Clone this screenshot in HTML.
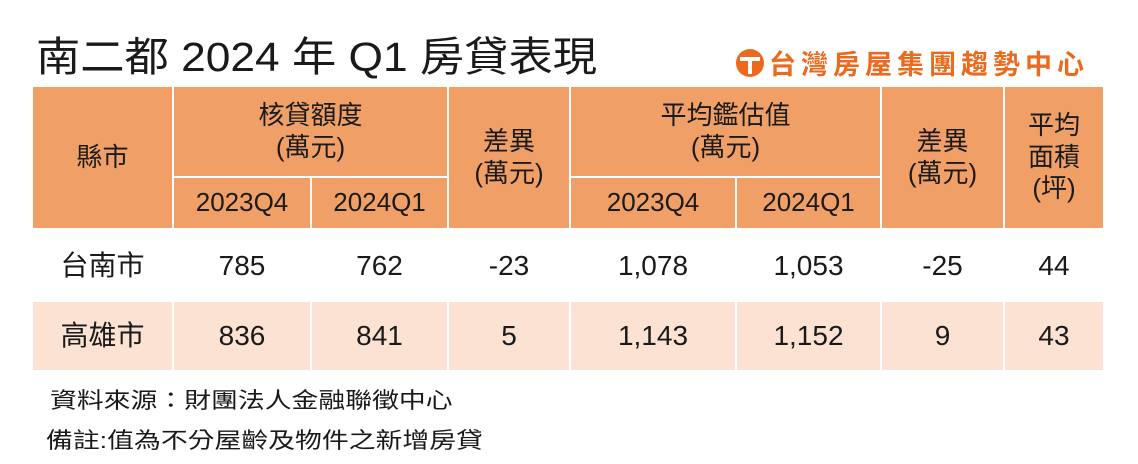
<!DOCTYPE html>
<html><head><meta charset="utf-8"><style>
body{margin:0;width:1138px;height:464px;background:#fff;position:relative;overflow:hidden;font-family:"Liberation Sans","Noto Sans CJK TC",sans-serif;color:#1a1a1a}
.c{position:absolute;display:flex;align-items:center;justify-content:center;text-align:center;box-sizing:border-box;line-height:1.22}
.h{background:#f0a066;font-size:26px}
.p{background:#fbe2d2}
.d{font-size:28px}
.t{position:absolute;left:36px;top:32px;font-size:41px;line-height:50px;white-space:nowrap;transform:scaleX(1.08);transform-origin:0 0}
.logo{position:absolute;left:735px;top:43px;font-size:27px;font-weight:bold;color:#ec6a1e;display:flex;align-items:center;letter-spacing:5px;white-space:nowrap}
.f{position:absolute;font-size:22px;white-space:nowrap;transform:scaleX(1.22);transform-origin:0 0}
</style></head><body>
<div class="t">南二都 2024 年 Q1 房貸表現</div>
<div class="logo"><svg width="30" height="30" viewBox="0 0 30 30"><circle cx="15" cy="15" r="14" fill="#ec6a1e"/><rect x="5" y="9" width="20" height="4" fill="#fff"/><rect x="13" y="9" width="4" height="17" fill="#fff"/></svg><span style="margin-left:4px">台灣房屋集團趨勢中心</span></div>
<!-- header -->
<div class="c h" style="left:33px;top:87px;width:139px;height:141px">縣市</div>
<div class="c h" style="left:174px;top:87px;width:273px;height:89px">核貸額度<br>(萬元)</div>
<div class="c h" style="left:174px;top:178px;width:136px;height:50px">2023Q4</div>
<div class="c h" style="left:312px;top:178px;width:135px;height:50px">2024Q1</div>
<div class="c h" style="left:449px;top:87px;width:120px;height:141px">差異<br>(萬元)</div>
<div class="c h" style="left:571px;top:87px;width:309px;height:89px">平均鑑估值<br>(萬元)</div>
<div class="c h" style="left:571px;top:178px;width:164px;height:50px">2023Q4</div>
<div class="c h" style="left:737px;top:178px;width:143px;height:50px">2024Q1</div>
<div class="c h" style="left:882px;top:87px;width:121px;height:141px">差異<br>(萬元)</div>
<div class="c h" style="left:1005px;top:87px;width:98px;height:141px">平均<br>面積<br>(坪)</div>
<!-- row1 -->
<div class="c d" style="left:33px;top:230px;width:139px;height:72px">台南市</div>
<div class="c d" style="left:174px;top:230px;width:136px;height:72px">785</div>
<div class="c d" style="left:312px;top:230px;width:135px;height:72px">762</div>
<div class="c d" style="left:449px;top:230px;width:120px;height:72px">-23</div>
<div class="c d" style="left:571px;top:230px;width:164px;height:72px">1,078</div>
<div class="c d" style="left:737px;top:230px;width:143px;height:72px">1,053</div>
<div class="c d" style="left:882px;top:230px;width:121px;height:72px">-25</div>
<div class="c d" style="left:1005px;top:230px;width:98px;height:72px">44</div>
<!-- row2 -->
<div class="c d p" style="left:33px;top:302px;width:139px;height:68px">高雄市</div>
<div class="c d p" style="left:174px;top:302px;width:136px;height:68px">836</div>
<div class="c d p" style="left:312px;top:302px;width:135px;height:68px">841</div>
<div class="c d p" style="left:449px;top:302px;width:120px;height:68px">5</div>
<div class="c d p" style="left:571px;top:302px;width:164px;height:68px">1,143</div>
<div class="c d p" style="left:737px;top:302px;width:143px;height:68px">1,152</div>
<div class="c d p" style="left:882px;top:302px;width:121px;height:68px">9</div>
<div class="c d p" style="left:1005px;top:302px;width:98px;height:68px">43</div>
<div class="f" style="left:50px;top:383px">資料來源：財團法人金融聯徵中心</div>
<div class="f" style="left:46px;top:423px">備註:值為不分屋齡及物件之新增房貸</div>
</body></html>
